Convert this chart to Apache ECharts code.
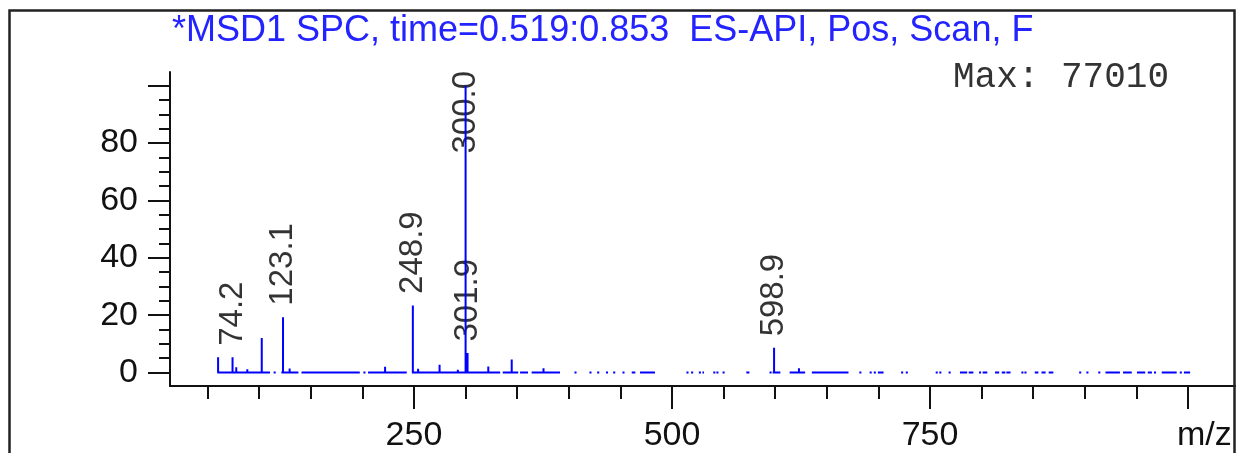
<!DOCTYPE html>
<html><head><meta charset="utf-8">
<script src="https://cdn.jsdelivr.net/npm/echarts@6/dist/echarts.min.js"></script>
<style>html,body{margin:0;padding:0;background:#fff}#c{width:1237px;height:453px}</style>
</head><body><div id="c"></div>
<script>
// ---- data ----
const titleText = '*MSD1 SPC, time=0.519:0.853  ES-API, Pos, Scan, F';
const maxText = 'Max: 77010';
const xAxisName = 'm/z';
// [m/z, relative intensity %]
const peaks = [
  [60.2, 5.3], [74.2, 5.3], [77.8, 1.8], [88.5, 1.1], [102.5, 12.0],
  [123.1, 19.3], [129.5, 1.4], [222.0, 2.0], [248.9, 23.4], [254.0, 1.3],
  [274.8, 2.7], [292.5, 1.0], [300.0, 100], [301.9, 6.8], [322.0, 2.1],
  [344.7, 4.5], [375.5, 1.5], [598.9, 8.6], [623.0, 1.5]
];
const labeledPeaks = [74.2, 123.1, 248.9, 300.0, 301.9, 598.9];
// m/z ranges where the recorded trace is present (baseline), gaps elsewhere
const baselineSegments = [
  [59.5, 110.5], [114, 116], [121.5, 138], [141, 197.5], [201, 203], [205.5, 243],
  [248, 333.5], [336, 351], [352.8, 360.5], [364, 391.5],
  [405.5, 407.5], [420, 422], [427.5, 429.5], [436, 438], [443, 445], [452, 454],
  [461, 464.5], [469, 483.5],
  [514, 516], [518.5, 520.5], [526, 528], [529.5, 531], [540, 542], [543, 545],
  [549, 551], [572, 575],
  [594.5, 596.5], [597.5, 605], [614, 629], [635.5, 671],
  [681.5, 683.5], [691.5, 693.5], [695.5, 697.5], [699.5, 705],
  [722, 724], [726.5, 728.5],
  [755.5, 757.5], [759, 761], [768, 770], [779, 786], [787.5, 792], [797.5, 799.5],
  [801, 805.5], [813, 817], [819.5, 823], [824, 828], [838.5, 840.5], [841.5, 843.5],
  [851.5, 855], [858, 862], [865, 869.5],
  [894.5, 896.5], [901.5, 903.5], [913, 915], [920, 934], [937, 945.5], [950.5, 958.5],
  [961, 965], [967, 969], [974.5, 989], [992, 994], [996, 1002]
];
const yMajorTicks = [0, 20, 40, 60, 80, 100];
const yLabelValues = [0, 20, 40, 60, 80];
const yMinorTicks = [5, 10, 15, 25, 30, 35, 45, 50, 55, 65, 70, 75, 85, 90, 95];
const xMajorTicks = [250, 500, 750, 1000];
const xLabelValues = [250, 500, 750];
const xMinorTicks = [50, 100, 150, 200, 300, 350, 400, 450, 550, 600, 650, 700, 800, 850, 900, 950];

// ---- build series data ----
const baseData = [];
baselineSegments.forEach(([a, b]) => { baseData.push([a, 0], [b, 0], [b, '-']); });
const stickData = [];
peaks.forEach(([m, h]) => { stickData.push([m, 0], [m, h], [m, '-']); });
const LABEL_CAP = 75.5; // labels of peaks that would leave the plot are placed lower
const labelData = labeledPeaks.map(m => {
  const h = peaks.find(p => p[0] === m)[1];
  const capped = h > LABEL_CAP;
  return { value: [m, capped ? LABEL_CAP : h], label: { distance: capped ? 2 : 11 } };
});

const X_MIN = 13.6, X_MAX = 1045.5, Y_MIN = -4.7, Y_MAX = 104.8;
const axisColor = '#111';
const chart = echarts.init(document.getElementById('c'));
chart.setOption({
  animation: false,
  backgroundColor: '#fff',
  title: [
    { text: titleText, left: 172, top: 13, padding: 0,
      textStyle: { fontFamily: 'Liberation Sans', fontSize: 36, fontWeight: 'normal', color: '#2323ff' } },
    { text: maxText, left: 953, top: 59, padding: 0,
      textStyle: { fontFamily: 'Liberation Mono', fontSize: 36, fontWeight: 'normal', color: '#333' } }
  ],
  grid: { left: 170, right: 2, top: 72, bottom: 61, containLabel: false },
  xAxis: [
    { type: 'value', min: X_MIN, max: X_MAX,
      name: xAxisName, nameLocation: 'end', nameGap: -58,
      nameTextStyle: { fontFamily: 'Liberation Sans', fontSize: 34, color: axisColor, verticalAlign: 'top', align: 'left', padding: [33, 0, 0, 0] },
      axisLine: { show: true, onZero: false, lineStyle: { color: axisColor, width: 2 } },
      axisTick: { show: true, length: 23, customValues: xMajorTicks, lineStyle: { color: axisColor, width: 2 } },
      axisLabel: { customValues: xLabelValues, fontFamily: 'Liberation Sans', fontSize: 34, color: axisColor, margin: 33 },
      splitLine: { show: false } },
    { type: 'value', min: X_MIN, max: X_MAX, position: 'bottom',
      axisLine: { show: false, onZero: false },
      axisTick: { show: true, length: 13, customValues: xMinorTicks, lineStyle: { color: axisColor, width: 2 } },
      axisLabel: { show: false }, splitLine: { show: false } }
  ],
  yAxis: [
    { type: 'value', min: Y_MIN, max: Y_MAX,
      axisLine: { show: true, onZero: false, lineStyle: { color: axisColor, width: 2 } },
      axisTick: { show: true, length: 22, customValues: yMajorTicks, lineStyle: { color: axisColor, width: 2 } },
      axisLabel: { customValues: yLabelValues, fontFamily: 'Liberation Sans', fontSize: 34, color: axisColor, margin: 32 },
      splitLine: { show: false } },
    { type: 'value', min: Y_MIN, max: Y_MAX, position: 'left',
      axisLine: { show: false, onZero: false },
      axisTick: { show: true, length: 11, customValues: yMinorTicks, lineStyle: { color: axisColor, width: 2 } },
      axisLabel: { show: false }, splitLine: { show: false } }
  ],
  series: [
    { type: 'scatter', z: 1, symbolSize: 1, itemStyle: { color: 'rgba(0,0,0,0)' }, data: labelData,
      label: { show: true, position: 'top', rotate: 90, align: 'left', verticalAlign: 'middle',
        fontFamily: 'Liberation Sans', fontSize: 33, color: '#000',
        formatter: p => p.value[0].toFixed(1) } },
    { type: 'line', z: 5, symbol: 'none', data: baseData, connectNulls: false,
      lineStyle: { color: '#0000ff', width: 2.2 } },
    { type: 'line', z: 6, symbol: 'none', data: stickData, connectNulls: false,
      lineStyle: { color: '#0000ff', width: 2 } }
  ],
  graphic: [
    { type: 'rect', z: 100, shape: { x: 9.5, y: 10.5, width: 1225, height: 480 },
      style: { fill: 'none', stroke: '#222', lineWidth: 2.5 } }
  ]
});
</script></body></html>
